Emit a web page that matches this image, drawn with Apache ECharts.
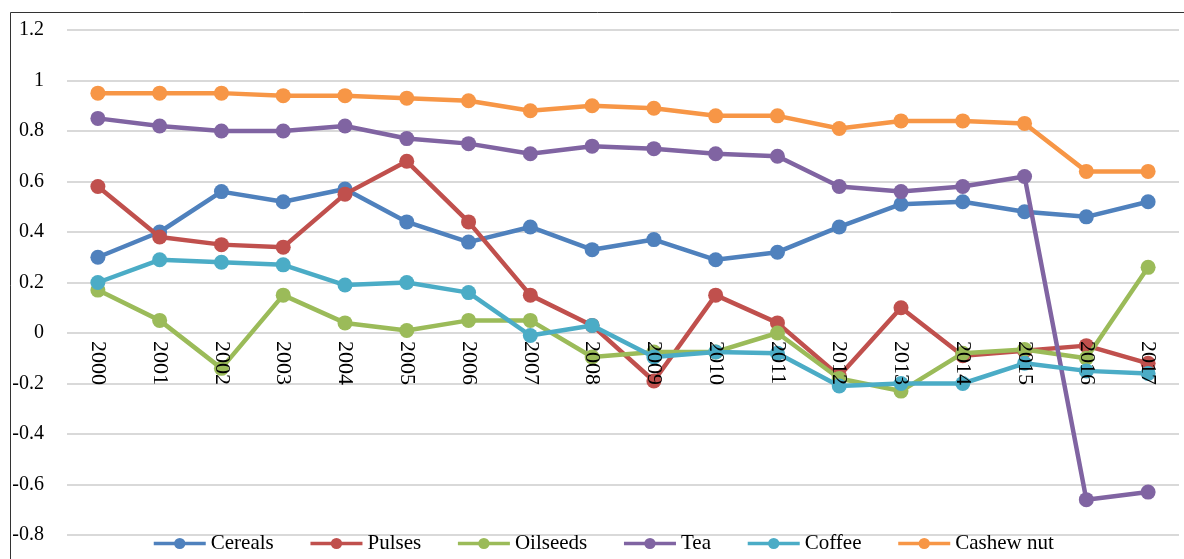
<!DOCTYPE html>
<html>
<head>
<meta charset="utf-8">
<script src="https://cdn.jsdelivr.net/npm/echarts@6/dist/echarts.min.js"></script>
<style>html,body{margin:0;padding:0;background:#fff}#c{width:1184px;height:559px}</style>
</head>
<body>
<div id="c"></div>
<script>
const years = ['2000','2001','2002','2003','2004','2005','2006','2007','2008','2009','2010','2011','2012','2013','2014','2015','2016','2017'];
const cereals  = [0.30,0.40,0.56,0.52,0.57,0.44,0.36,0.42,0.33,0.37,0.29,0.32,0.42,0.51,0.52,0.48,0.46,0.52];
const pulses   = [0.58,0.38,0.35,0.34,0.55,0.68,0.44,0.15,0.03,-0.19,0.15,0.04,-0.17,0.10,-0.09,-0.07,-0.05,-0.12];
const oilseeds = [0.17,0.05,-0.14,0.15,0.04,0.01,0.05,0.05,-0.095,-0.075,-0.075,0.00,-0.18,-0.23,-0.08,-0.065,-0.10,0.26];
const tea      = [0.85,0.82,0.80,0.80,0.82,0.77,0.75,0.71,0.74,0.73,0.71,0.70,0.58,0.56,0.58,0.62,-0.66,-0.63];
const coffee   = [0.20,0.29,0.28,0.27,0.19,0.20,0.16,-0.01,0.03,-0.095,-0.075,-0.08,-0.21,-0.20,-0.20,-0.12,-0.15,-0.16];
const cashew   = [0.95,0.95,0.95,0.94,0.94,0.93,0.92,0.88,0.90,0.89,0.86,0.86,0.81,0.84,0.84,0.83,0.64,0.64];

const names = ['Cereals','Pulses','Oilseeds','Tea','Coffee','Cashew nut'];
const datas = [cereals,pulses,oilseeds,tea,coffee,cashew];
const colors = ['#4F81BD','#C0504D','#9BBB59','#8064A2','#4BACC6','#F79646'];
const font = '"Liberation Serif", "Times New Roman", serif';

const chart = echarts.init(document.getElementById('c'));
chart.setOption({
  animation:false,
  color: colors,
  graphic: [
    {type:'line', shape:{x1:10.5,y1:12.5,x2:1184,y2:12.5}, style:{stroke:'#333',lineWidth:1}},
    {type:'line', shape:{x1:10.5,y1:12.5,x2:10.5,y2:559}, style:{stroke:'#333',lineWidth:1}}
  ],
  grid:{left:67,right:5,top:30,bottom:24,containLabel:false,outerBoundsMode:'none'},
  legend:{
    data:names, left:147, top:528, itemWidth:52, itemHeight:14, itemGap:35,
    lineStyle:{width:3.5},
    textStyle:{fontFamily:font,fontSize:21,color:'#000'}
  },
  xAxis:{
    type:'category', data:years, boundaryGap:true, position:'bottom', offset:-202, z:20,
    axisLine:{show:false,onZero:false},
    axisTick:{show:false},
    axisLabel:{rotate:-90,margin:8,fontFamily:font,fontSize:22,color:'#000'}
  },
  yAxis:{
    type:'value', min:-0.8, max:1.2, interval:0.2,
    axisLine:{show:false}, axisTick:{show:false},
    splitLine:{lineStyle:{color:'#d9d9d9',width:2}},
    axisLabel:{margin:23,fontFamily:font,fontSize:20,color:'#000',
      formatter:v=>String(Math.round(v*10)/10)}
  },
  series: names.map((n,i)=>({
    name:n, type:'line', data:datas[i], symbol:'circle', symbolSize:15,
    lineStyle:{width:4.5,color:colors[i]}, itemStyle:{color:colors[i]}, z:2+i
  }))
});
</script>
</body>
</html>
